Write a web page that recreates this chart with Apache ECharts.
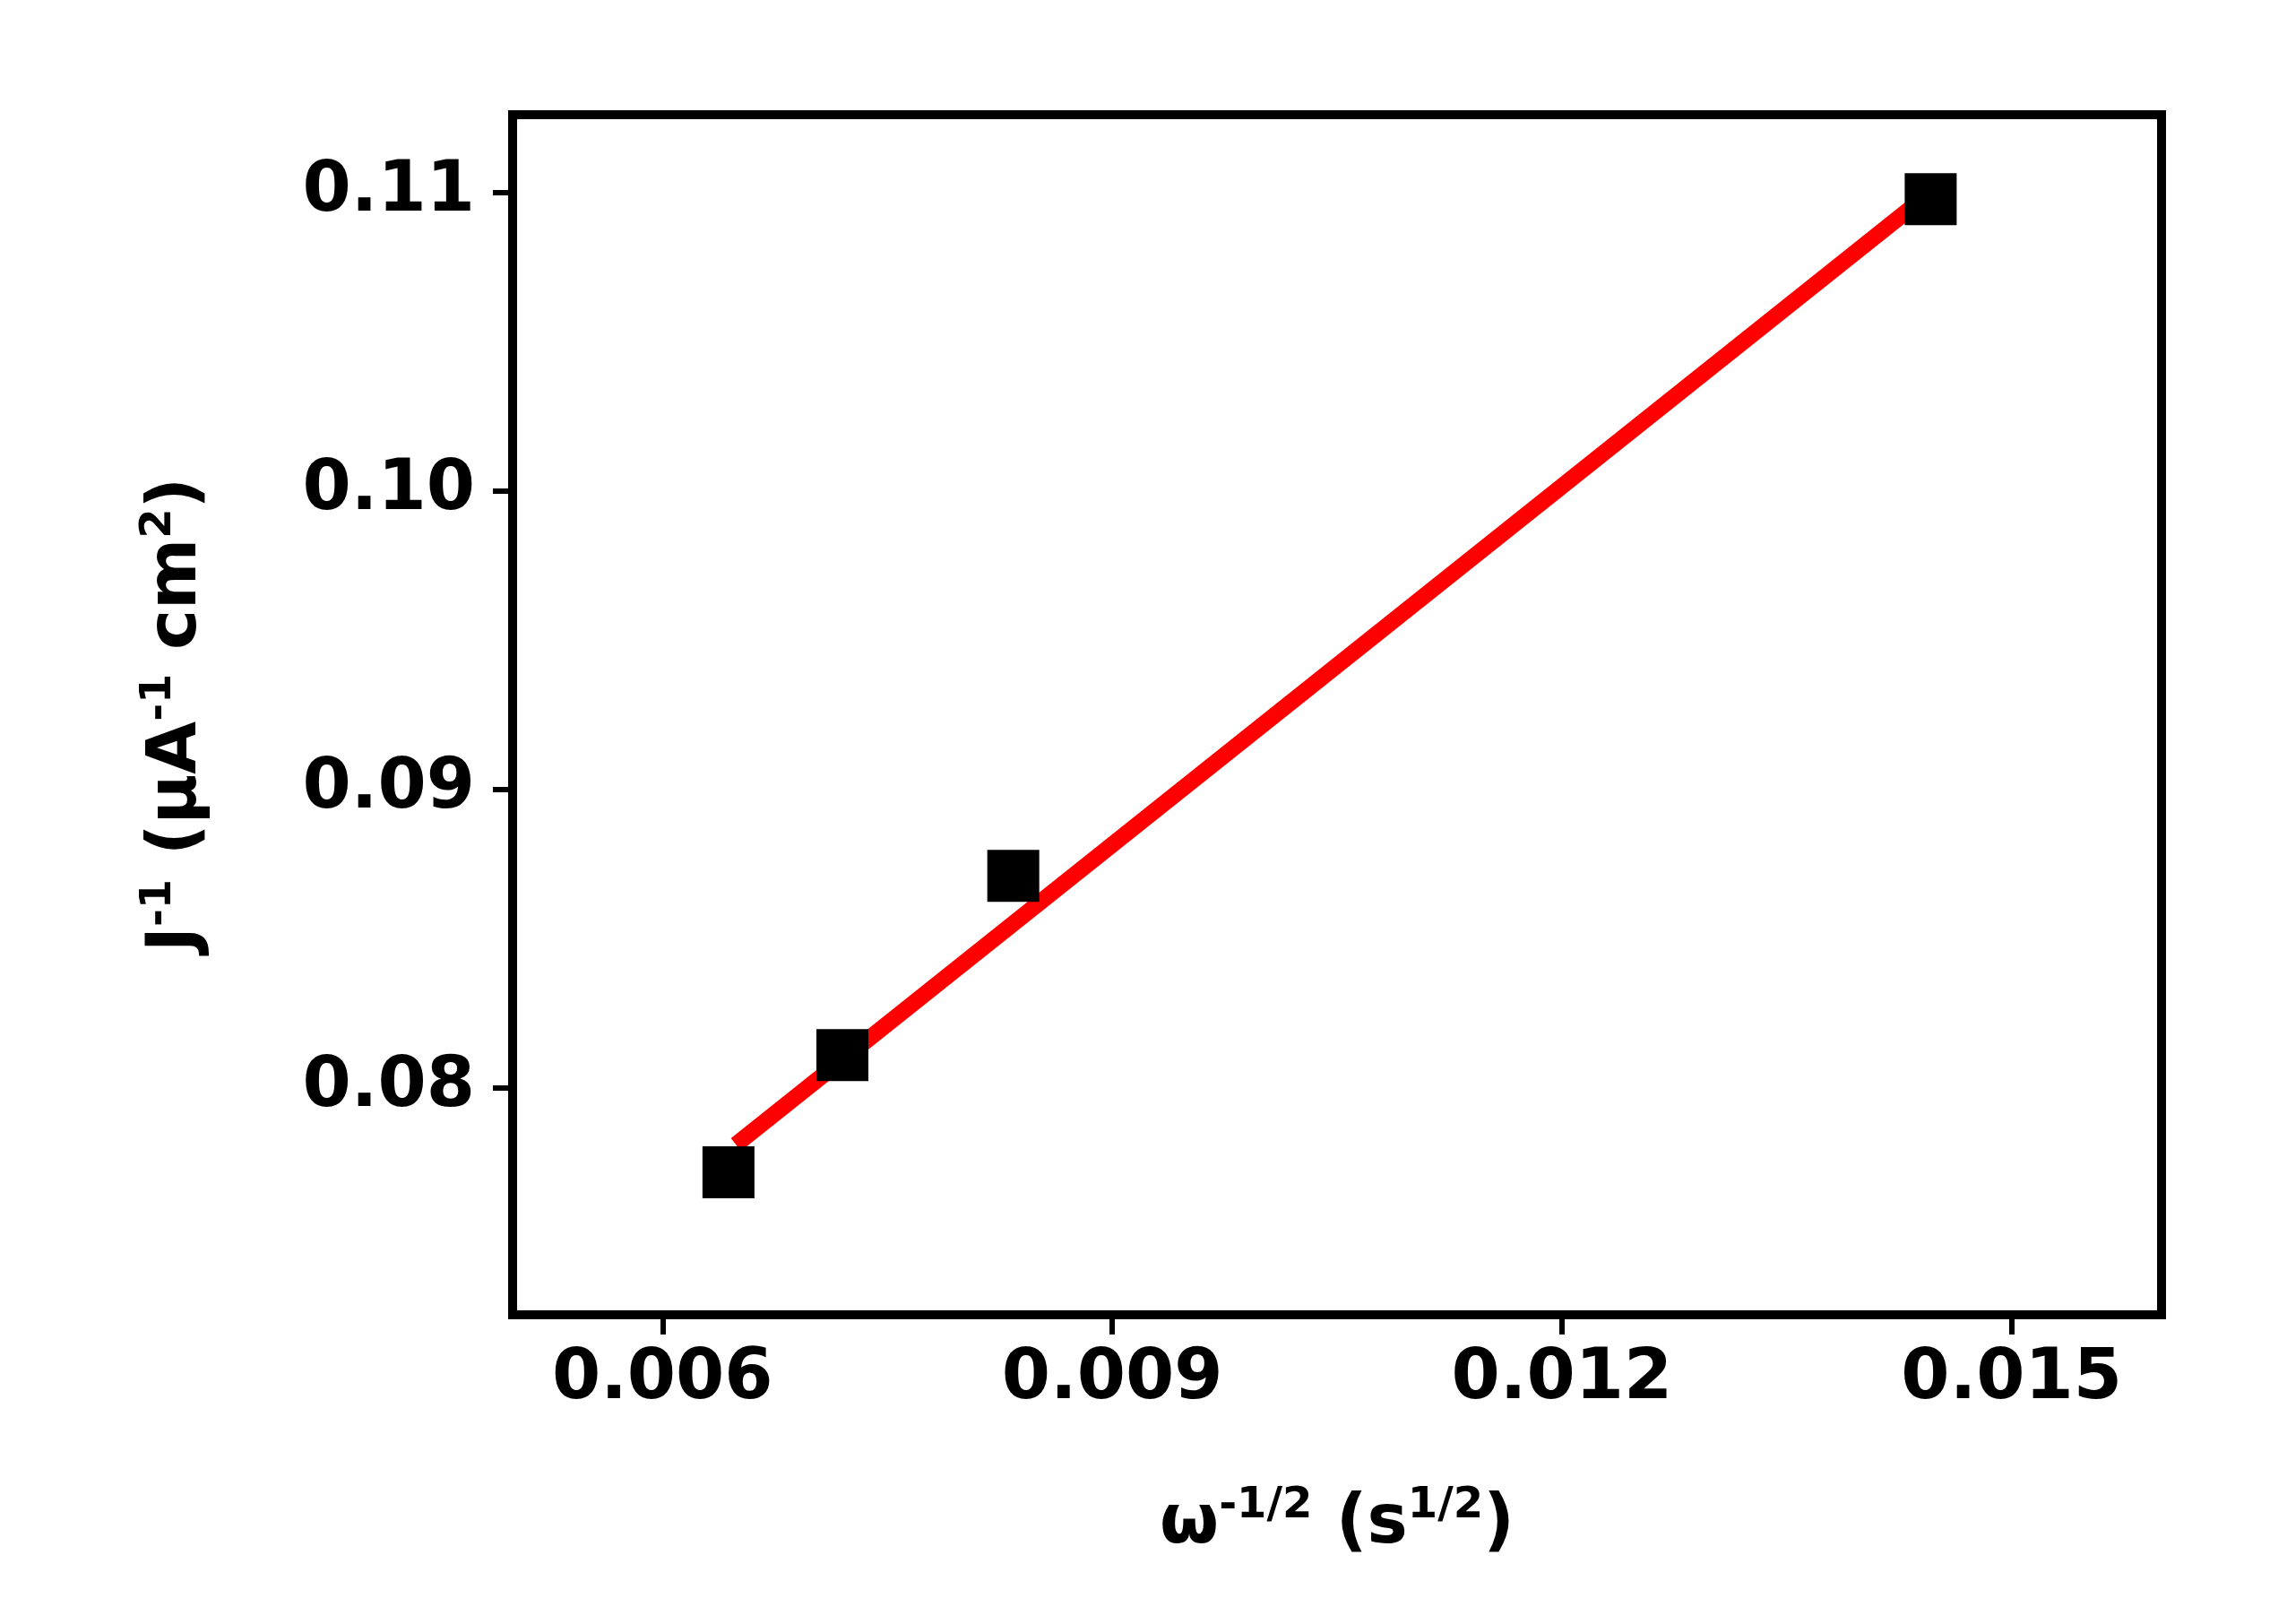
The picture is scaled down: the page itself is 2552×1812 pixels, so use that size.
<!DOCTYPE html>
<html><head><meta charset="utf-8">
<script src="https://cdn.jsdelivr.net/npm/echarts@6/dist/echarts.min.js"></script>
<style>html,body{margin:0;background:#fff}#c{width:2552px;height:1812px}</style>
</head><body><div id="c"></div>
<script>
const pointsX = [0.00644, 0.0072, 0.00834, 0.01446];
const pointsY = [0.07717, 0.0811, 0.0871, 0.10977];
const fitX = [0.00649, 0.01446];
const fitY = [0.0781, 0.1100];
const xTicks = [0.006, 0.009, 0.012, 0.015];
const yTicks = [0.08, 0.09, 0.10, 0.11];
const xTickLabels = ['0.006','0.009','0.012','0.015'];
const yTickLabels = ['0.08','0.09','0.10','0.11'];

const font = 'DejaVu Sans, sans-serif';
const chart = echarts.init(document.getElementById('c'));
chart.setOption({
  animation:false,
  grid:{left:572,right:140,top:128,bottom:345,show:true,borderColor:'#000',borderWidth:10},
  xAxis:{type:'value',min:0.005,max:0.016,
    axisLine:{show:true,onZero:false,lineStyle:{color:'#000',width:10}},
    axisTick:{show:true,customValues:xTicks,length:22,lineStyle:{color:'#000',width:6}},
    splitLine:{show:false},
    axisLabel:{customValues:xTicks,margin:34,color:'#000',fontFamily:font,fontWeight:'bold',fontSize:78,
      formatter:v=>xTickLabels[xTicks.findIndex(t=>Math.abs(t-v)<1e-9)]||''},
    name:'{m|ω}{s|-1/2}{m| (s}{s|1/2}{m|)}',nameLocation:'middle',nameGap:190,
    nameTextStyle:{rich:{m:{fontSize:76,fontWeight:'bold',fontFamily:font,color:'#000'},
      s:{fontSize:48,fontWeight:'bold',fontFamily:font,color:'#000',padding:[0,0,40,0]}}}
  },
  yAxis:{type:'value',min:0.0724,max:0.1126,
    axisLine:{show:true,onZero:false,lineStyle:{color:'#000',width:10}},
    axisTick:{show:true,customValues:yTicks,length:22,lineStyle:{color:'#000',width:6}},
    splitLine:{show:false},
    axisLabel:{customValues:yTicks,margin:42,color:'#000',fontFamily:font,fontWeight:'bold',fontSize:78,
      formatter:v=>yTickLabels[yTicks.findIndex(t=>Math.abs(t-v)<1e-9)]||''},
    name:'{m|J}{s|-1}{m| (μA}{s|-1}{m| cm}{s|2}{m|)}',nameLocation:'middle',nameGap:330,
    nameTextStyle:{rich:{m:{fontSize:76,fontWeight:'bold',fontFamily:font,color:'#000'},
      s:{fontSize:48,fontWeight:'bold',fontFamily:font,color:'#000',padding:[0,0,40,0]}}}
  },
  series:[
    {type:'line',data:fitX.map((x,i)=>[x,fitY[i]]),symbol:'none',z:2,
     lineStyle:{color:'#ff0000',width:18}},
    {type:'scatter',data:pointsX.map((x,i)=>[x,pointsY[i]]),symbol:'rect',symbolSize:58,z:3,
     itemStyle:{color:'#000',opacity:1}}
  ]
});
</script></body></html>
